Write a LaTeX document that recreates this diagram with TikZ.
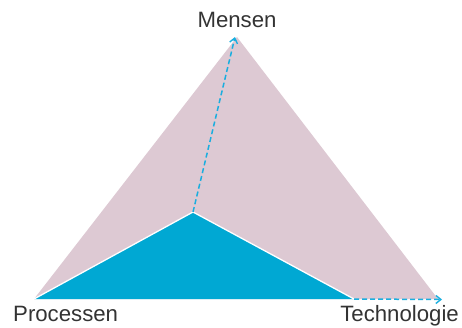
\documentclass[tikz,border=0pt]{standalone}
\usepackage{fontspec}
\setmainfont{Liberation Sans}
\usetikzlibrary{arrows.meta}
\definecolor{pinkfill}{HTML}{DDC9D3}
\definecolor{bluefill}{HTML}{00A8D3}
\definecolor{dashblue}{HTML}{1AAEDF}
\definecolor{labelgray}{HTML}{333333}
\tikzset{
  lbl/.style={font=\fontsize{22.2}{25}\selectfont, text=labelgray, inner sep=0pt},
  dasharrow/.style={draw=dashblue, line width=1.5pt, dash pattern=on 5pt off 3pt,
    -{Straight Barb[length=5pt,width=8pt,line width=1.4pt]}},
}
\begin{document}
\begin{tikzpicture}[x=1pt,y=-1pt]
\useasboundingbox (0,0) rectangle (462,327);
\coordinate (top) at (237,37);
\coordinate (bl) at (34,299);
\coordinate (br) at (438,299);
\coordinate (in) at (193,212);
\coordinate (bm) at (354,299);
\coordinate (tip) at (442,299.5);
\coordinate (toptip) at (235,37);
\fill[pinkfill] (bl) -- (top) -- (br) -- cycle;
\fill[bluefill] (bl) -- (in) -- (bm) -- cycle;
\draw[white, line width=1.3pt] (bl) -- (in) -- (bm);
\draw[dasharrow] (in) -- (toptip);
\draw[dasharrow] (bm) -- (tip);
\node[lbl, anchor=base] (mensen) at (237,27) {Mensen};
\node[lbl, anchor=base west] (proc) at (13,321) {Processen};
\node[lbl, anchor=base east] (tech) at (459,321) {Technologie};
\end{tikzpicture}
\end{document}
